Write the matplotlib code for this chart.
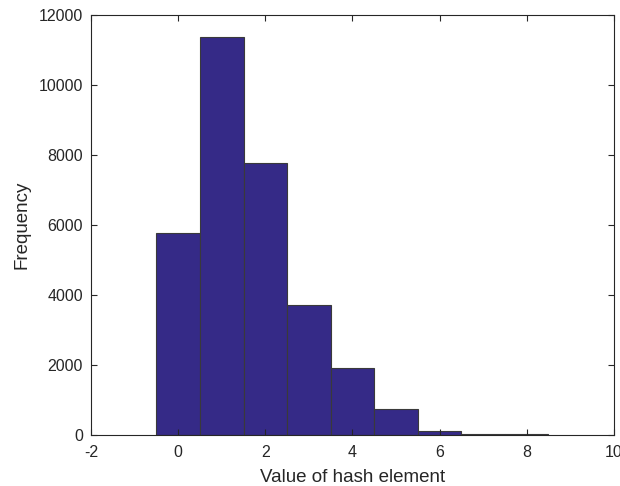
import matplotlib
matplotlib.use("Agg")
import matplotlib.pyplot as plt

# histogram counts
values = [0, 1, 2, 3, 4, 5, 6, 7, 8]
counts = [5770, 11370, 7770, 3715, 1915, 745, 115, 30, 20]

plt.rcParams['font.family'] = ['Liberation Sans', 'DejaVu Sans']
plt.rcParams['axes.unicode_minus'] = False
plt.rcParams['axes.edgecolor'] = '#262626'
plt.rcParams['xtick.color'] = '#262626'
plt.rcParams['ytick.color'] = '#262626'

fig = plt.figure(figsize=(6.2, 4.86), dpi=100)
ax = fig.add_axes([0.147, 0.105, 0.843, 0.864])

ax.bar(values, counts, width=1.0, color='#352a87', edgecolor='#3a3a3a', linewidth=0.8)

ax.set_xlim(-2, 10)
ax.set_ylim(0, 12000)
ax.set_xticks(range(-2, 11, 2))
ax.set_yticks(range(0, 12001, 2000))
ax.tick_params(direction='in', top=True, right=True, labelsize=11.5, length=4, width=0.8)
ax.tick_params(axis='x', pad=7)
ax.tick_params(axis='y', pad=6)
for s in ax.spines.values():
    s.set_linewidth(0.8)

ax.set_xlabel('Value of hash element', fontsize=13.5, color='#262626', labelpad=6.5)
ax.set_ylabel('Frequency', fontsize=13.5, color='#262626', labelpad=6)

fig.savefig('out.png', dpi=100)
